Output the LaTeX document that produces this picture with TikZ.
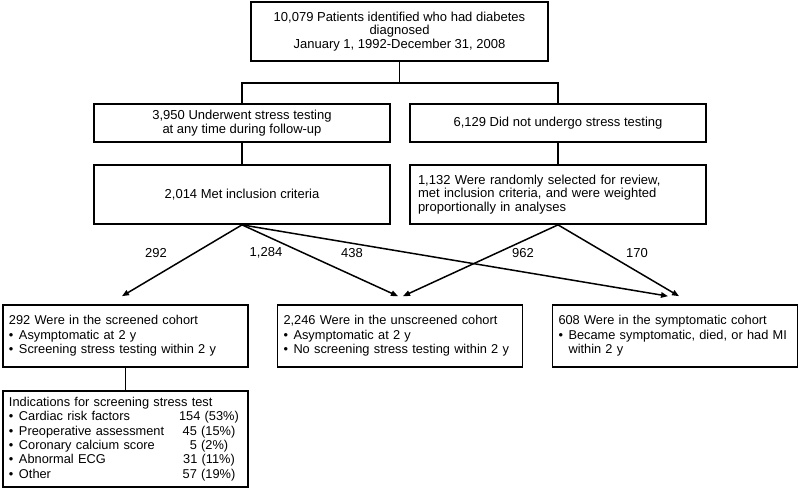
\documentclass[tikz,border=0pt]{standalone}
\usepackage{fontspec}
\setmainfont{Liberation Sans}
\usetikzlibrary{arrows.meta}
\begin{document}
\begin{tikzpicture}[x=1pt,y=-1pt,
  box/.style={draw, line width=1.7pt, rectangle, inner sep=0pt},
  ufont/.style={font=\fontsize{13}{13.8}\selectfont},
  lfont/.style={font=\fontsize{12.8}{14.4}\selectfont},
  cbox/.style={box, ufont, align=center},
  rbox/.style={box, ufont, align=left, inner xsep=8pt, text width=280pt},
  bbox/.style={box, lfont, align=left, inner xsep=6pt, text width=233pt},
  link/.style={line width=1.5pt},
  arr/.style={line width=1.5pt, -{Triangle[length=7pt,width=5.5pt]}},
  num/.style={font=\fontsize{13}{14}\selectfont}]
\useasboundingbox (0,0) rectangle (800,491);

\node[cbox, minimum width=297pt, minimum height=59pt] (top) at (399.5,31.5)
  {10,079 Patients identified who had diabetes\\diagnosed\\January 1, 1992-December 31, 2008};

\node[cbox, minimum width=296pt, minimum height=38pt] (l2) at (242,123)
  {3,950 Underwent stress testing\\at any time during follow-up};
\node[cbox, minimum width=296pt, minimum height=38pt] (r2) at (558,123)
  {6,129 Did not undergo stress testing};

\node[cbox, minimum width=296pt, minimum height=59pt] (l3) at (242,194.5)
  {2,014 Met inclusion criteria};
\node[rbox, minimum height=59pt] (r3) at (558,194.5)
  {1,132 Were randomly selected for review,\\met inclusion criteria, and were weighted\\proportionally in analyses};

\node[bbox, minimum height=62pt] (b1) at (125.5,336)
  {292 Were in the screened cohort\\
   \makebox[10pt][l]{•}Asymptomatic at 2 y\\
   \mbox{\makebox[10pt][l]{•}Screening stress testing within 2 y}};
\node[bbox, minimum height=62pt] (b2) at (400,336)
  {2,246 Were in the unscreened cohort\\
   \makebox[10pt][l]{•}Asymptomatic at 2 y\\
   \mbox{\makebox[10pt][l]{•}No screening stress testing within 2 y}};
\node[bbox, minimum height=62pt] (b3) at (675,336)
  {608 Were in the symptomatic cohort\\
   \mbox{\makebox[10pt][l]{•}Became symptomatic, died, or had MI}\\
   \hspace*{10pt}within 2 y};

\node[bbox, minimum height=96pt] (b4) at (125.5,439)
  {Indications for screening stress test\\
   \makebox[172pt][l]{\makebox[10pt][l]{•}Cardiac risk factors}\makebox[56pt]{154 (53\%)}\\
   \makebox[172pt][l]{\makebox[10pt][l]{•}Preoperative assessment}\makebox[56pt]{45 (15\%)}\\
   \makebox[172pt][l]{\makebox[10pt][l]{•}Coronary calcium score}\makebox[56pt]{5 (2\%)}\\
   \makebox[172pt][l]{\makebox[10pt][l]{•}Abnormal ECG}\makebox[56pt]{31 (11\%)}\\
   \makebox[172pt][l]{\makebox[10pt][l]{•}Other}\makebox[56pt]{57 (19\%)}};

% connectors
\coordinate (j) at (399.5,83);
\draw[link] (top.south) -- (j);
\draw[link] (l2.north) |- (j) -| (r2.north);
\draw[link] (l2.south) -- (l3.north);
\draw[link] (r2.south) -- (r3.north);
\draw[link] (b1.south) -- (b4.north);

\draw[arr] (l3.south) -- ([xshift=-3.5pt,yshift=8pt]b1.north);
\draw[arr] (l3.south) -- ([xshift=-2pt,yshift=8pt]b2.north);
\draw[arr] (l3.south) -- ([xshift=-7pt,yshift=8pt]b3.north);
\draw[arr] (r3.south) -- ([xshift=3pt,yshift=8pt]b2.north);
\draw[arr] (r3.south) -- ([xshift=4pt,yshift=8pt]b3.north);

\node[num] (n292) at (156,253) {292};
\node[num] (n1284) at (266,253) {1,284};
\node[num] (n438) at (352,253) {438};
\node[num] (n962) at (523,253) {962};
\node[num] (n170) at (637,253) {170};
\end{tikzpicture}
\end{document}
